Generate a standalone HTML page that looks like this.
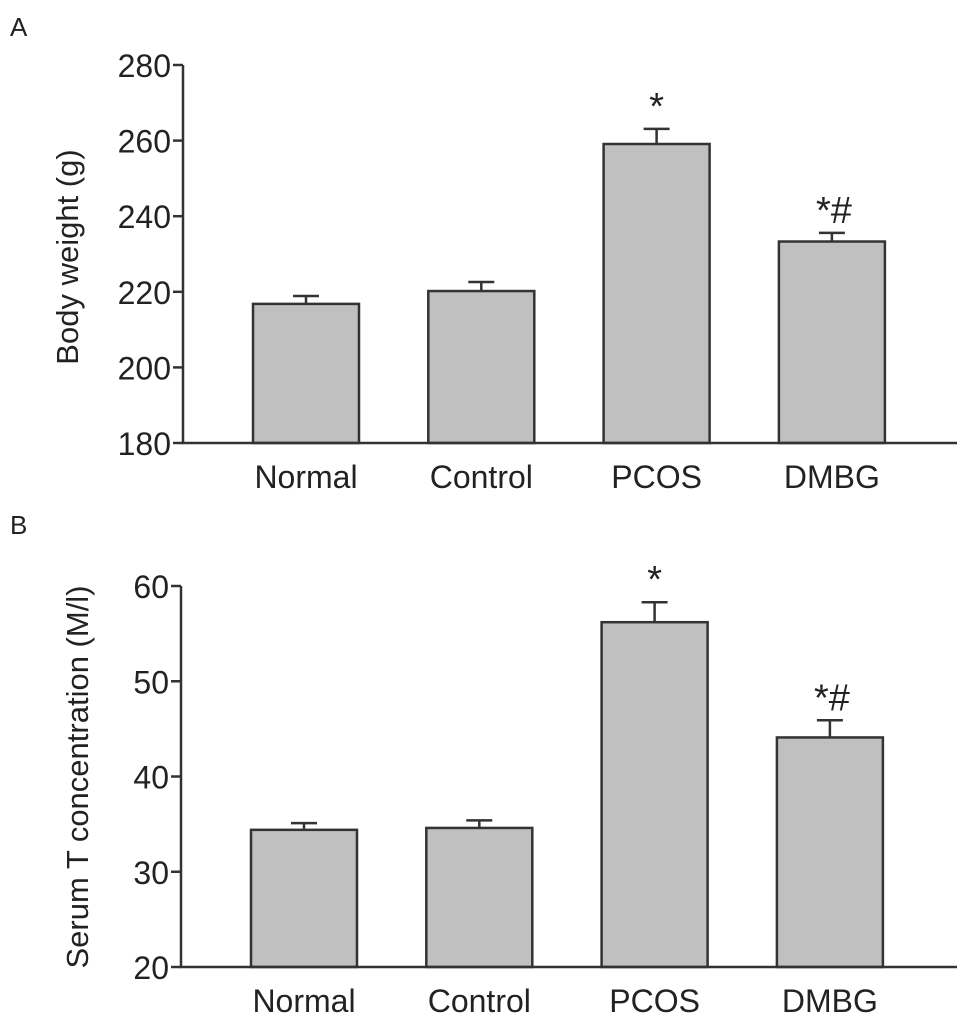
<!DOCTYPE html>
<html><head><meta charset="utf-8">
<style>
html,body{margin:0;padding:0;background:#fff;}
svg{display:block;font-family:"Liberation Sans",Arial,sans-serif;}
</style></head>
<body>
<svg id="fig" width="969" height="1023" viewBox="0 0 969 1023" xmlns="http://www.w3.org/2000/svg">
<text x="10" y="36" font-size="26" fill="#222">A</text>
<text x="10" y="534" font-size="26" fill="#222">B</text>
</svg>
<script>
const categories = ["Normal", "Control", "PCOS", "DMBG"];
const weightValues = [216.8, 220.2, 259.1, 233.3];
const weightErrors = [2.1, 2.4, 4.0, 2.3];
const weightTicks = [180, 200, 220, 240, 260, 280];
const weightMarks = ["", "", "*", "*#"];
const serumValues = [34.4, 34.6, 56.2, 44.1];
const serumErrors = [0.7, 0.8, 2.1, 1.8];
const serumTicks = [20, 30, 40, 50, 60];
const serumMarks = ["", "", "*", "*#"];

const NS = "http://www.w3.org/2000/svg";
const svg = document.getElementById("fig");
function mk(tag, attrs, parent) {
  const e = document.createElementNS(NS, tag);
  for (const k in attrs) e.setAttribute(k, attrs[k]);
  (parent || svg).appendChild(e);
  return e;
}

function drawPanel(p) {
  const g = mk("g", {});
  
  
  const ymin = p.ticks[0], ymax = p.ticks[p.ticks.length - 1];
  const y = v => p.bottom - (v - ymin) / (ymax - ymin) * (p.bottom - p.top);
  const xc = i => p.axisX + 123 + i * 175.3;
  const bw = 106;
  categories.forEach((c, i) => {
    const v = p.values[i], e = p.errors[i], cx = xc(i);
    const et = y(v + e);
    const eb = mk("path", {d: `M${cx} ${y(v)} V${et} M${cx - 13} ${et} H${cx + 13}`, stroke: "#333", "stroke-width": 2.5, fill: "none"}, g);
    
    
    const r = mk("rect", {x: cx - bw / 2, y: y(v), width: bw, height: p.bottom - y(v), fill: "#c0c0c0", stroke: "#333", "stroke-width": 2.5}, g);
    
    
    const t = mk("text", {x: cx, y: p.bottom + 45, "font-size": 32, "text-anchor": "middle", fill: "#222"}, g);
    t.textContent = c;
    
    
    if (p.marks[i]) {
      const m = mk("text", {x: cx + (p.marks[i].length > 1 ? 2 : 0), y: et - 10, "font-size": 38, "text-anchor": "middle", fill: "#222"}, g);
      m.textContent = p.marks[i];
      
      
    }
  });
  const ax = mk("path", {d: `M${p.axisX} ${p.top} V${p.bottom} H${p.right}`, stroke: "#333", "stroke-width": 2.5, fill: "none"}, g);
  
  
  p.ticks.forEach(tv => {
    const ty = y(tv);
    const tk = mk("line", {x1: p.axisX - 10, x2: p.axisX, y1: ty, y2: ty, stroke: "#333", "stroke-width": 2.5}, g);
    
    
    const tl = mk("text", {x: p.axisX - 12, y: ty + 12, "font-size": 32, "text-anchor": "end", fill: "#222"}, g);
    tl.textContent = tv;
    
    
  });
  const tt = mk("text", {x: 0, y: 0, "font-size": 31, "text-anchor": "middle", fill: "#222", transform: `translate(${p.titleX},${p.titleY}) rotate(-90)`}, g);
  tt.textContent = p.title;
  
  
}

drawPanel({name: "body-weight-chart", values: weightValues, errors: weightErrors, ticks: weightTicks, marks: weightMarks,
  top: 65, bottom: 443, axisX: 183, right: 957, title: "Body weight (g)", titleX: 78, titleY: 257});
drawPanel({name: "serum-t-chart", values: serumValues, errors: serumErrors, ticks: serumTicks, marks: serumMarks,
  top: 586, bottom: 967, axisX: 181, right: 957, title: "Serum T concentration (M/l)", titleX: 88, titleY: 777});
</script>
</body></html>
